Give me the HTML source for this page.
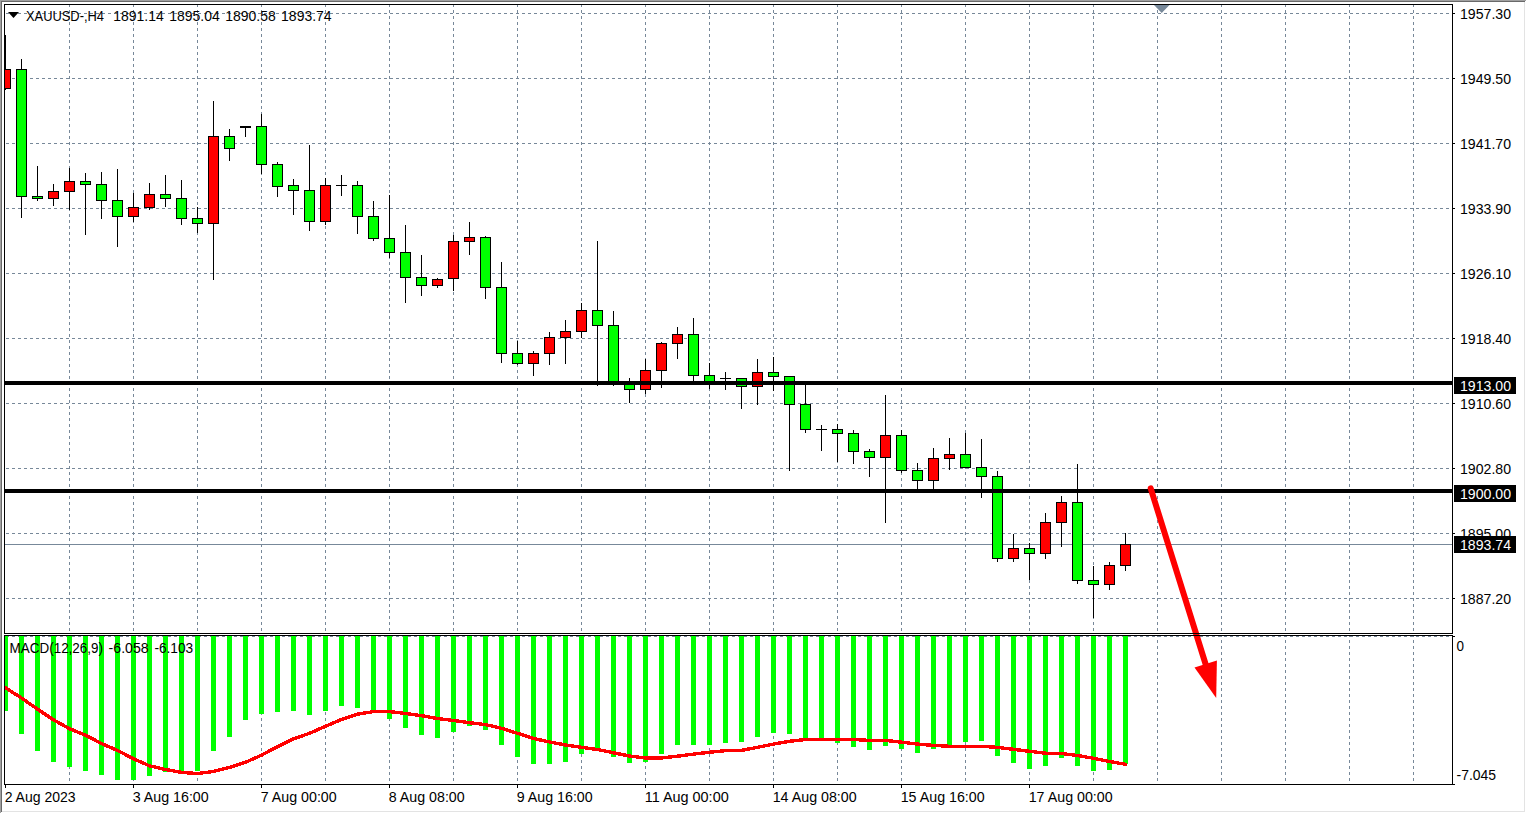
<!DOCTYPE html><html><head><meta charset="utf-8"><title>XAUUSD H4</title>
<style>html,body{margin:0;padding:0;background:#fff;overflow:hidden}svg{display:block}text{font-family:"Liberation Sans",sans-serif;font-size:14px;fill:#000}</style></head><body>
<svg width="1526" height="813" viewBox="0 0 1526 813">
<rect width="1526" height="813" fill="#fff"/>
<defs><clipPath id="cm"><rect x="5" y="5" width="1447" height="628"/></clipPath><clipPath id="ci"><rect x="5" y="636" width="1447" height="148"/></clipPath></defs>
<g shape-rendering="crispEdges">
<rect x="0" y="0" width="1526" height="1" fill="#a0a0a0"/><rect x="0" y="0" width="1" height="813" fill="#a0a0a0"/>
<rect x="1" y="1" width="1524" height="1" fill="#696969"/><rect x="1" y="1" width="1" height="811" fill="#696969"/>
<rect x="2" y="811" width="1523" height="1" fill="#e3e3e3"/><rect x="1524" y="2" width="1" height="810" fill="#e3e3e3"/>
<line x1="6" y1="13.5" x2="1452" y2="13.5" stroke="#778899" stroke-width="1" stroke-dasharray="3 3"/>
<line x1="6" y1="78.5" x2="1452" y2="78.5" stroke="#778899" stroke-width="1" stroke-dasharray="3 3"/>
<line x1="6" y1="143.5" x2="1452" y2="143.5" stroke="#778899" stroke-width="1" stroke-dasharray="3 3"/>
<line x1="6" y1="208.5" x2="1452" y2="208.5" stroke="#778899" stroke-width="1" stroke-dasharray="3 3"/>
<line x1="6" y1="273.5" x2="1452" y2="273.5" stroke="#778899" stroke-width="1" stroke-dasharray="3 3"/>
<line x1="6" y1="338.5" x2="1452" y2="338.5" stroke="#778899" stroke-width="1" stroke-dasharray="3 3"/>
<line x1="6" y1="403.5" x2="1452" y2="403.5" stroke="#778899" stroke-width="1" stroke-dasharray="3 3"/>
<line x1="6" y1="468.5" x2="1452" y2="468.5" stroke="#778899" stroke-width="1" stroke-dasharray="3 3"/>
<line x1="6" y1="533.5" x2="1452" y2="533.5" stroke="#778899" stroke-width="1" stroke-dasharray="3 3"/>
<line x1="6" y1="598.5" x2="1452" y2="598.5" stroke="#778899" stroke-width="1" stroke-dasharray="3 3"/>
<line x1="69.5" y1="4" x2="69.5" y2="784" stroke="#778899" stroke-width="1" stroke-dasharray="3 3"/>
<line x1="133.5" y1="4" x2="133.5" y2="784" stroke="#778899" stroke-width="1" stroke-dasharray="3 3"/>
<line x1="197.5" y1="4" x2="197.5" y2="784" stroke="#778899" stroke-width="1" stroke-dasharray="3 3"/>
<line x1="261.5" y1="4" x2="261.5" y2="784" stroke="#778899" stroke-width="1" stroke-dasharray="3 3"/>
<line x1="325.5" y1="4" x2="325.5" y2="784" stroke="#778899" stroke-width="1" stroke-dasharray="3 3"/>
<line x1="389.5" y1="4" x2="389.5" y2="784" stroke="#778899" stroke-width="1" stroke-dasharray="3 3"/>
<line x1="453.5" y1="4" x2="453.5" y2="784" stroke="#778899" stroke-width="1" stroke-dasharray="3 3"/>
<line x1="517.5" y1="4" x2="517.5" y2="784" stroke="#778899" stroke-width="1" stroke-dasharray="3 3"/>
<line x1="581.5" y1="4" x2="581.5" y2="784" stroke="#778899" stroke-width="1" stroke-dasharray="3 3"/>
<line x1="645.5" y1="4" x2="645.5" y2="784" stroke="#778899" stroke-width="1" stroke-dasharray="3 3"/>
<line x1="709.5" y1="4" x2="709.5" y2="784" stroke="#778899" stroke-width="1" stroke-dasharray="3 3"/>
<line x1="773.5" y1="4" x2="773.5" y2="784" stroke="#778899" stroke-width="1" stroke-dasharray="3 3"/>
<line x1="837.5" y1="4" x2="837.5" y2="784" stroke="#778899" stroke-width="1" stroke-dasharray="3 3"/>
<line x1="901.5" y1="4" x2="901.5" y2="784" stroke="#778899" stroke-width="1" stroke-dasharray="3 3"/>
<line x1="965.5" y1="4" x2="965.5" y2="784" stroke="#778899" stroke-width="1" stroke-dasharray="3 3"/>
<line x1="1029.5" y1="4" x2="1029.5" y2="784" stroke="#778899" stroke-width="1" stroke-dasharray="3 3"/>
<line x1="1093.5" y1="4" x2="1093.5" y2="784" stroke="#778899" stroke-width="1" stroke-dasharray="3 3"/>
<line x1="1157.5" y1="4" x2="1157.5" y2="784" stroke="#778899" stroke-width="1" stroke-dasharray="3 3"/>
<line x1="1221.5" y1="4" x2="1221.5" y2="784" stroke="#778899" stroke-width="1" stroke-dasharray="3 3"/>
<line x1="1285.5" y1="4" x2="1285.5" y2="784" stroke="#778899" stroke-width="1" stroke-dasharray="3 3"/>
<line x1="1349.5" y1="4" x2="1349.5" y2="784" stroke="#778899" stroke-width="1" stroke-dasharray="3 3"/>
<line x1="1413.5" y1="4" x2="1413.5" y2="784" stroke="#778899" stroke-width="1" stroke-dasharray="3 3"/>
<rect x="5" y="634" width="1447" height="1" fill="#fff"/>
<line x1="6" y1="636.5" x2="1452" y2="636.5" stroke="#778899" stroke-width="1" stroke-dasharray="3 3"/>
<rect x="5" y="544" width="1447" height="1" fill="#778899"/>
<g clip-path="url(#cm)">
<rect x="5" y="35" width="1" height="55" fill="#000"/>
<rect x="0" y="69" width="11" height="20" fill="#000"/>
<rect x="1" y="70" width="9" height="18" fill="#ff0000"/>
<rect x="21" y="59" width="1" height="159" fill="#000"/>
<rect x="16" y="69" width="11" height="128" fill="#000"/>
<rect x="17" y="70" width="9" height="126" fill="#00ff00"/>
<rect x="37" y="166" width="1" height="35" fill="#000"/>
<rect x="32" y="196" width="11" height="3" fill="#000"/>
<rect x="33" y="197" width="9" height="1" fill="#00ff00"/>
<rect x="53" y="184" width="1" height="22" fill="#000"/>
<rect x="48" y="191" width="11" height="8" fill="#000"/>
<rect x="49" y="192" width="9" height="6" fill="#ff0000"/>
<rect x="69" y="168" width="1" height="42" fill="#000"/>
<rect x="64" y="181" width="11" height="11" fill="#000"/>
<rect x="65" y="182" width="9" height="9" fill="#ff0000"/>
<rect x="85" y="173" width="1" height="62" fill="#000"/>
<rect x="80" y="181" width="11" height="4" fill="#000"/>
<rect x="81" y="182" width="9" height="2" fill="#00ff00"/>
<rect x="101" y="172" width="1" height="47" fill="#000"/>
<rect x="96" y="184" width="11" height="17" fill="#000"/>
<rect x="97" y="185" width="9" height="15" fill="#00ff00"/>
<rect x="117" y="169" width="1" height="78" fill="#000"/>
<rect x="112" y="200" width="11" height="17" fill="#000"/>
<rect x="113" y="201" width="9" height="15" fill="#00ff00"/>
<rect x="133" y="193" width="1" height="29" fill="#000"/>
<rect x="128" y="207" width="11" height="10" fill="#000"/>
<rect x="129" y="208" width="9" height="8" fill="#ff0000"/>
<rect x="149" y="183" width="1" height="27" fill="#000"/>
<rect x="144" y="194" width="11" height="14" fill="#000"/>
<rect x="145" y="195" width="9" height="12" fill="#ff0000"/>
<rect x="165" y="175" width="1" height="32" fill="#000"/>
<rect x="160" y="194" width="11" height="5" fill="#000"/>
<rect x="161" y="195" width="9" height="3" fill="#00ff00"/>
<rect x="181" y="180" width="1" height="45" fill="#000"/>
<rect x="176" y="198" width="11" height="21" fill="#000"/>
<rect x="177" y="199" width="9" height="19" fill="#00ff00"/>
<rect x="197" y="207" width="1" height="26" fill="#000"/>
<rect x="192" y="218" width="11" height="6" fill="#000"/>
<rect x="193" y="219" width="9" height="4" fill="#00ff00"/>
<rect x="213" y="101" width="1" height="179" fill="#000"/>
<rect x="208" y="136" width="11" height="88" fill="#000"/>
<rect x="209" y="137" width="9" height="86" fill="#ff0000"/>
<rect x="229" y="129" width="1" height="32" fill="#000"/>
<rect x="224" y="136" width="11" height="13" fill="#000"/>
<rect x="225" y="137" width="9" height="11" fill="#00ff00"/>
<rect x="245" y="126" width="1" height="11" fill="#000"/>
<rect x="240" y="126" width="11" height="2" fill="#000"/>
<rect x="261" y="114" width="1" height="60" fill="#000"/>
<rect x="256" y="126" width="11" height="39" fill="#000"/>
<rect x="257" y="127" width="9" height="37" fill="#00ff00"/>
<rect x="277" y="162" width="1" height="35" fill="#000"/>
<rect x="272" y="164" width="11" height="23" fill="#000"/>
<rect x="273" y="165" width="9" height="21" fill="#00ff00"/>
<rect x="293" y="179" width="1" height="36" fill="#000"/>
<rect x="288" y="185" width="11" height="6" fill="#000"/>
<rect x="289" y="186" width="9" height="4" fill="#00ff00"/>
<rect x="309" y="145" width="1" height="86" fill="#000"/>
<rect x="304" y="190" width="11" height="32" fill="#000"/>
<rect x="305" y="191" width="9" height="30" fill="#00ff00"/>
<rect x="325" y="178" width="1" height="47" fill="#000"/>
<rect x="320" y="185" width="11" height="37" fill="#000"/>
<rect x="321" y="186" width="9" height="35" fill="#ff0000"/>
<rect x="341" y="175" width="1" height="21" fill="#000"/>
<rect x="336" y="185" width="11" height="1" fill="#000"/>
<rect x="357" y="181" width="1" height="53" fill="#000"/>
<rect x="352" y="185" width="11" height="32" fill="#000"/>
<rect x="353" y="186" width="9" height="30" fill="#00ff00"/>
<rect x="373" y="201" width="1" height="40" fill="#000"/>
<rect x="368" y="216" width="11" height="23" fill="#000"/>
<rect x="369" y="217" width="9" height="21" fill="#00ff00"/>
<rect x="389" y="195" width="1" height="63" fill="#000"/>
<rect x="384" y="238" width="11" height="15" fill="#000"/>
<rect x="385" y="239" width="9" height="13" fill="#00ff00"/>
<rect x="405" y="225" width="1" height="78" fill="#000"/>
<rect x="400" y="252" width="11" height="26" fill="#000"/>
<rect x="401" y="253" width="9" height="24" fill="#00ff00"/>
<rect x="421" y="255" width="1" height="41" fill="#000"/>
<rect x="416" y="277" width="11" height="9" fill="#000"/>
<rect x="417" y="278" width="9" height="7" fill="#00ff00"/>
<rect x="437" y="278" width="1" height="10" fill="#000"/>
<rect x="432" y="279" width="11" height="7" fill="#000"/>
<rect x="433" y="280" width="9" height="5" fill="#ff0000"/>
<rect x="453" y="235" width="1" height="56" fill="#000"/>
<rect x="448" y="241" width="11" height="38" fill="#000"/>
<rect x="449" y="242" width="9" height="36" fill="#ff0000"/>
<rect x="469" y="222" width="1" height="33" fill="#000"/>
<rect x="464" y="237" width="11" height="5" fill="#000"/>
<rect x="465" y="238" width="9" height="3" fill="#ff0000"/>
<rect x="485" y="236" width="1" height="63" fill="#000"/>
<rect x="480" y="237" width="11" height="51" fill="#000"/>
<rect x="481" y="238" width="9" height="49" fill="#00ff00"/>
<rect x="501" y="262" width="1" height="101" fill="#000"/>
<rect x="496" y="287" width="11" height="67" fill="#000"/>
<rect x="497" y="288" width="9" height="65" fill="#00ff00"/>
<rect x="517" y="341" width="1" height="24" fill="#000"/>
<rect x="512" y="353" width="11" height="11" fill="#000"/>
<rect x="513" y="354" width="9" height="9" fill="#00ff00"/>
<rect x="533" y="351" width="1" height="25" fill="#000"/>
<rect x="528" y="353" width="11" height="11" fill="#000"/>
<rect x="529" y="354" width="9" height="9" fill="#ff0000"/>
<rect x="549" y="332" width="1" height="33" fill="#000"/>
<rect x="544" y="337" width="11" height="17" fill="#000"/>
<rect x="545" y="338" width="9" height="15" fill="#ff0000"/>
<rect x="565" y="320" width="1" height="44" fill="#000"/>
<rect x="560" y="331" width="11" height="7" fill="#000"/>
<rect x="561" y="332" width="9" height="5" fill="#ff0000"/>
<rect x="581" y="303" width="1" height="35" fill="#000"/>
<rect x="576" y="310" width="11" height="22" fill="#000"/>
<rect x="577" y="311" width="9" height="20" fill="#ff0000"/>
<rect x="597" y="241" width="1" height="145" fill="#000"/>
<rect x="592" y="310" width="11" height="16" fill="#000"/>
<rect x="593" y="311" width="9" height="14" fill="#00ff00"/>
<rect x="613" y="311" width="1" height="75" fill="#000"/>
<rect x="608" y="325" width="11" height="59" fill="#000"/>
<rect x="609" y="326" width="9" height="57" fill="#00ff00"/>
<rect x="629" y="378" width="1" height="25" fill="#000"/>
<rect x="624" y="383" width="11" height="7" fill="#000"/>
<rect x="625" y="384" width="9" height="5" fill="#00ff00"/>
<rect x="645" y="359" width="1" height="35" fill="#000"/>
<rect x="640" y="370" width="11" height="20" fill="#000"/>
<rect x="641" y="371" width="9" height="18" fill="#ff0000"/>
<rect x="661" y="342" width="1" height="46" fill="#000"/>
<rect x="656" y="343" width="11" height="28" fill="#000"/>
<rect x="657" y="344" width="9" height="26" fill="#ff0000"/>
<rect x="677" y="327" width="1" height="32" fill="#000"/>
<rect x="672" y="334" width="11" height="10" fill="#000"/>
<rect x="673" y="335" width="9" height="8" fill="#ff0000"/>
<rect x="693" y="318" width="1" height="64" fill="#000"/>
<rect x="688" y="334" width="11" height="42" fill="#000"/>
<rect x="689" y="335" width="9" height="40" fill="#00ff00"/>
<rect x="709" y="363" width="1" height="26" fill="#000"/>
<rect x="704" y="375" width="11" height="8" fill="#000"/>
<rect x="705" y="376" width="9" height="6" fill="#00ff00"/>
<rect x="725" y="372" width="1" height="18" fill="#000"/>
<rect x="720" y="378" width="11" height="1" fill="#000"/>
<rect x="741" y="378" width="1" height="31" fill="#000"/>
<rect x="736" y="378" width="11" height="9" fill="#000"/>
<rect x="737" y="379" width="9" height="7" fill="#00ff00"/>
<rect x="757" y="359" width="1" height="46" fill="#000"/>
<rect x="752" y="372" width="11" height="15" fill="#000"/>
<rect x="753" y="373" width="9" height="13" fill="#ff0000"/>
<rect x="773" y="357" width="1" height="34" fill="#000"/>
<rect x="768" y="372" width="11" height="5" fill="#000"/>
<rect x="769" y="373" width="9" height="3" fill="#00ff00"/>
<rect x="789" y="376" width="1" height="95" fill="#000"/>
<rect x="784" y="376" width="11" height="29" fill="#000"/>
<rect x="785" y="377" width="9" height="27" fill="#00ff00"/>
<rect x="805" y="382" width="1" height="51" fill="#000"/>
<rect x="800" y="404" width="11" height="26" fill="#000"/>
<rect x="801" y="405" width="9" height="24" fill="#00ff00"/>
<rect x="821" y="425" width="1" height="26" fill="#000"/>
<rect x="816" y="429" width="11" height="1" fill="#000"/>
<rect x="837" y="424" width="1" height="38" fill="#000"/>
<rect x="832" y="429" width="11" height="5" fill="#000"/>
<rect x="833" y="430" width="9" height="3" fill="#00ff00"/>
<rect x="853" y="430" width="1" height="34" fill="#000"/>
<rect x="848" y="433" width="11" height="19" fill="#000"/>
<rect x="849" y="434" width="9" height="17" fill="#00ff00"/>
<rect x="869" y="449" width="1" height="28" fill="#000"/>
<rect x="864" y="451" width="11" height="7" fill="#000"/>
<rect x="865" y="452" width="9" height="5" fill="#00ff00"/>
<rect x="885" y="395" width="1" height="128" fill="#000"/>
<rect x="880" y="435" width="11" height="23" fill="#000"/>
<rect x="881" y="436" width="9" height="21" fill="#ff0000"/>
<rect x="901" y="430" width="1" height="43" fill="#000"/>
<rect x="896" y="435" width="11" height="36" fill="#000"/>
<rect x="897" y="436" width="9" height="34" fill="#00ff00"/>
<rect x="917" y="463" width="1" height="27" fill="#000"/>
<rect x="912" y="470" width="11" height="11" fill="#000"/>
<rect x="913" y="471" width="9" height="9" fill="#00ff00"/>
<rect x="933" y="448" width="1" height="42" fill="#000"/>
<rect x="928" y="458" width="11" height="23" fill="#000"/>
<rect x="929" y="459" width="9" height="21" fill="#ff0000"/>
<rect x="949" y="438" width="1" height="32" fill="#000"/>
<rect x="944" y="454" width="11" height="5" fill="#000"/>
<rect x="945" y="455" width="9" height="3" fill="#ff0000"/>
<rect x="965" y="433" width="1" height="35" fill="#000"/>
<rect x="960" y="454" width="11" height="14" fill="#000"/>
<rect x="961" y="455" width="9" height="12" fill="#00ff00"/>
<rect x="981" y="439" width="1" height="59" fill="#000"/>
<rect x="976" y="467" width="11" height="10" fill="#000"/>
<rect x="977" y="468" width="9" height="8" fill="#00ff00"/>
<rect x="997" y="471" width="1" height="91" fill="#000"/>
<rect x="992" y="476" width="11" height="83" fill="#000"/>
<rect x="993" y="477" width="9" height="81" fill="#00ff00"/>
<rect x="1013" y="534" width="1" height="28" fill="#000"/>
<rect x="1008" y="548" width="11" height="11" fill="#000"/>
<rect x="1009" y="549" width="9" height="9" fill="#ff0000"/>
<rect x="1029" y="543" width="1" height="37" fill="#000"/>
<rect x="1024" y="548" width="11" height="6" fill="#000"/>
<rect x="1025" y="549" width="9" height="4" fill="#00ff00"/>
<rect x="1045" y="513" width="1" height="46" fill="#000"/>
<rect x="1040" y="522" width="11" height="32" fill="#000"/>
<rect x="1041" y="523" width="9" height="30" fill="#ff0000"/>
<rect x="1061" y="496" width="1" height="51" fill="#000"/>
<rect x="1056" y="502" width="11" height="21" fill="#000"/>
<rect x="1057" y="503" width="9" height="19" fill="#ff0000"/>
<rect x="1077" y="464" width="1" height="120" fill="#000"/>
<rect x="1072" y="502" width="11" height="79" fill="#000"/>
<rect x="1073" y="503" width="9" height="77" fill="#00ff00"/>
<rect x="1093" y="566" width="1" height="52" fill="#000"/>
<rect x="1088" y="580" width="11" height="5" fill="#000"/>
<rect x="1089" y="581" width="9" height="3" fill="#00ff00"/>
<rect x="1109" y="562" width="1" height="28" fill="#000"/>
<rect x="1104" y="565" width="11" height="20" fill="#000"/>
<rect x="1105" y="566" width="9" height="18" fill="#ff0000"/>
<rect x="1125" y="533" width="1" height="38" fill="#000"/>
<rect x="1120" y="544" width="11" height="22" fill="#000"/>
<rect x="1121" y="545" width="9" height="20" fill="#ff0000"/>
</g>
<rect x="5" y="381" width="1447" height="4" fill="#000"/>
<rect x="5" y="489" width="1447" height="4" fill="#000"/>
<g clip-path="url(#ci)">
<rect x="3" y="636" width="5" height="75" fill="#00ff00"/>
<rect x="19" y="636" width="5" height="98" fill="#00ff00"/>
<rect x="35" y="636" width="5" height="115" fill="#00ff00"/>
<rect x="51" y="636" width="5" height="126" fill="#00ff00"/>
<rect x="67" y="636" width="5" height="131" fill="#00ff00"/>
<rect x="83" y="636" width="5" height="135" fill="#00ff00"/>
<rect x="99" y="636" width="5" height="139" fill="#00ff00"/>
<rect x="115" y="636" width="5" height="144" fill="#00ff00"/>
<rect x="131" y="636" width="5" height="144" fill="#00ff00"/>
<rect x="147" y="636" width="5" height="140" fill="#00ff00"/>
<rect x="163" y="636" width="5" height="136" fill="#00ff00"/>
<rect x="179" y="636" width="5" height="135" fill="#00ff00"/>
<rect x="195" y="636" width="5" height="135" fill="#00ff00"/>
<rect x="211" y="636" width="5" height="115" fill="#00ff00"/>
<rect x="227" y="636" width="5" height="101" fill="#00ff00"/>
<rect x="243" y="636" width="5" height="84" fill="#00ff00"/>
<rect x="259" y="636" width="5" height="78" fill="#00ff00"/>
<rect x="275" y="636" width="5" height="76" fill="#00ff00"/>
<rect x="291" y="636" width="5" height="75" fill="#00ff00"/>
<rect x="307" y="636" width="5" height="79" fill="#00ff00"/>
<rect x="323" y="636" width="5" height="75" fill="#00ff00"/>
<rect x="339" y="636" width="5" height="70" fill="#00ff00"/>
<rect x="355" y="636" width="5" height="72" fill="#00ff00"/>
<rect x="371" y="636" width="5" height="75" fill="#00ff00"/>
<rect x="387" y="636" width="5" height="83" fill="#00ff00"/>
<rect x="403" y="636" width="5" height="92" fill="#00ff00"/>
<rect x="419" y="636" width="5" height="99" fill="#00ff00"/>
<rect x="435" y="636" width="5" height="102" fill="#00ff00"/>
<rect x="451" y="636" width="5" height="96" fill="#00ff00"/>
<rect x="467" y="636" width="5" height="90" fill="#00ff00"/>
<rect x="483" y="636" width="5" height="94" fill="#00ff00"/>
<rect x="499" y="636" width="5" height="109" fill="#00ff00"/>
<rect x="515" y="636" width="5" height="121" fill="#00ff00"/>
<rect x="531" y="636" width="5" height="128" fill="#00ff00"/>
<rect x="547" y="636" width="5" height="128" fill="#00ff00"/>
<rect x="563" y="636" width="5" height="126" fill="#00ff00"/>
<rect x="579" y="636" width="5" height="118" fill="#00ff00"/>
<rect x="595" y="636" width="5" height="114" fill="#00ff00"/>
<rect x="611" y="636" width="5" height="121" fill="#00ff00"/>
<rect x="627" y="636" width="5" height="127" fill="#00ff00"/>
<rect x="643" y="636" width="5" height="126" fill="#00ff00"/>
<rect x="659" y="636" width="5" height="118" fill="#00ff00"/>
<rect x="675" y="636" width="5" height="109" fill="#00ff00"/>
<rect x="691" y="636" width="5" height="109" fill="#00ff00"/>
<rect x="707" y="636" width="5" height="109" fill="#00ff00"/>
<rect x="723" y="636" width="5" height="107" fill="#00ff00"/>
<rect x="739" y="636" width="5" height="106" fill="#00ff00"/>
<rect x="755" y="636" width="5" height="101" fill="#00ff00"/>
<rect x="771" y="636" width="5" height="97" fill="#00ff00"/>
<rect x="787" y="636" width="5" height="98" fill="#00ff00"/>
<rect x="803" y="636" width="5" height="102" fill="#00ff00"/>
<rect x="819" y="636" width="5" height="102" fill="#00ff00"/>
<rect x="835" y="636" width="5" height="107" fill="#00ff00"/>
<rect x="851" y="636" width="5" height="111" fill="#00ff00"/>
<rect x="867" y="636" width="5" height="114" fill="#00ff00"/>
<rect x="883" y="636" width="5" height="110" fill="#00ff00"/>
<rect x="899" y="636" width="5" height="113" fill="#00ff00"/>
<rect x="915" y="636" width="5" height="117" fill="#00ff00"/>
<rect x="931" y="636" width="5" height="113" fill="#00ff00"/>
<rect x="947" y="636" width="5" height="109" fill="#00ff00"/>
<rect x="963" y="636" width="5" height="106" fill="#00ff00"/>
<rect x="979" y="636" width="5" height="105" fill="#00ff00"/>
<rect x="995" y="636" width="5" height="120" fill="#00ff00"/>
<rect x="1011" y="636" width="5" height="127" fill="#00ff00"/>
<rect x="1027" y="636" width="5" height="133" fill="#00ff00"/>
<rect x="1043" y="636" width="5" height="130" fill="#00ff00"/>
<rect x="1059" y="636" width="5" height="122" fill="#00ff00"/>
<rect x="1075" y="636" width="5" height="130" fill="#00ff00"/>
<rect x="1091" y="636" width="5" height="135" fill="#00ff00"/>
<rect x="1107" y="636" width="5" height="134" fill="#00ff00"/>
<rect x="1123" y="636" width="5" height="128" fill="#00ff00"/>
</g>
</g>
<g clip-path="url(#ci)"><polyline shape-rendering="crispEdges" points="5.5,687.8 21.5,698 37.5,709.2 53.5,719.8 69.5,728.7 85.5,735.2 101.5,743.5 117.5,750.4 133.5,758.8 149.5,765.8 165.5,769.5 181.5,772.4 197.5,773.5 213.5,771.5 229.5,767.5 245.5,762.3 261.5,755.2 277.5,746.6 293.5,738.9 309.5,733.3 325.5,726.3 341.5,719.4 357.5,714.2 373.5,711.6 389.5,711.6 405.5,713.5 421.5,715.7 437.5,718.5 453.5,720.5 469.5,722.7 485.5,724.6 501.5,728.3 517.5,733.3 533.5,738.5 549.5,741.9 565.5,745 581.5,747.3 597.5,749.5 613.5,752.8 629.5,756 645.5,758 661.5,758 677.5,756.2 693.5,754.1 709.5,752.3 725.5,750.6 741.5,750.4 757.5,747.3 773.5,744.1 789.5,741.3 805.5,739.5 821.5,739.5 837.5,739.5 853.5,739.5 869.5,740.4 885.5,740.4 901.5,742.2 917.5,744.1 933.5,745.4 949.5,746.3 965.5,746.3 981.5,746.3 997.5,747.4 1013.5,749.3 1029.5,751.3 1045.5,753.2 1061.5,753.5 1077.5,755.5 1093.5,758.3 1109.5,761.5 1125.5,764.3" fill="none" stroke="#ff0000" stroke-width="3.4" stroke-linejoin="round" stroke-linecap="round"/></g>
<line x1="1150.7" y1="488.4" x2="1206.5" y2="667" stroke="#ff0000" stroke-width="6" stroke-linecap="round"/>
<polygon points="1194.5,667.6 1216.9,660.6 1216.2,698" fill="#ff0000"/>
<g shape-rendering="crispEdges">
<rect x="4" y="4" width="1449" height="1" fill="#000"/>
<rect x="4" y="4" width="1" height="630" fill="#000"/><rect x="4" y="635" width="1" height="150" fill="#000"/>
<rect x="1452" y="4" width="1" height="630" fill="#000"/>
<rect x="1452" y="635" width="1" height="150" fill="#000"/>
<rect x="4" y="633" width="1449" height="1" fill="#000"/>
<rect x="4" y="635" width="1449" height="1" fill="#000"/>
<rect x="4" y="784" width="1449" height="1" fill="#000"/>
<rect x="1453" y="13" width="2" height="1" fill="#000"/>
<rect x="1453" y="78" width="2" height="1" fill="#000"/>
<rect x="1453" y="143" width="2" height="1" fill="#000"/>
<rect x="1453" y="208" width="2" height="1" fill="#000"/>
<rect x="1453" y="273" width="2" height="1" fill="#000"/>
<rect x="1453" y="338" width="2" height="1" fill="#000"/>
<rect x="1453" y="403" width="2" height="1" fill="#000"/>
<rect x="1453" y="468" width="2" height="1" fill="#000"/>
<rect x="1453" y="533" width="2" height="1" fill="#000"/>
<rect x="1453" y="598" width="2" height="1" fill="#000"/>
<rect x="1453" y="636" width="2" height="1" fill="#000"/><rect x="1453" y="784" width="2" height="1" fill="#000"/>
<rect x="5" y="785" width="1" height="3" fill="#000"/>
<rect x="133" y="785" width="1" height="3" fill="#000"/>
<rect x="261" y="785" width="1" height="3" fill="#000"/>
<rect x="389" y="785" width="1" height="3" fill="#000"/>
<rect x="517" y="785" width="1" height="3" fill="#000"/>
<rect x="645" y="785" width="1" height="3" fill="#000"/>
<rect x="773" y="785" width="1" height="3" fill="#000"/>
<rect x="901" y="785" width="1" height="3" fill="#000"/>
<rect x="1029" y="785" width="1" height="3" fill="#000"/>
<rect x="1454" y="377" width="62" height="17" fill="#000"/>
<rect x="1454" y="485" width="62" height="17" fill="#000"/>
</g>
<polygon points="1154,5 1169.5,5 1161.7,13" fill="#778899"/>
<polygon points="8,12 19,12 13.5,18" fill="#000"/>
<text x="1460" y="19" textLength="51" lengthAdjust="spacingAndGlyphs">1957.30</text>
<text x="1460" y="84" textLength="51" lengthAdjust="spacingAndGlyphs">1949.50</text>
<text x="1460" y="149" textLength="51" lengthAdjust="spacingAndGlyphs">1941.70</text>
<text x="1460" y="214" textLength="51" lengthAdjust="spacingAndGlyphs">1933.90</text>
<text x="1460" y="279" textLength="51" lengthAdjust="spacingAndGlyphs">1926.10</text>
<text x="1460" y="344" textLength="51" lengthAdjust="spacingAndGlyphs">1918.40</text>
<text x="1460" y="409" textLength="51" lengthAdjust="spacingAndGlyphs">1910.60</text>
<text x="1460" y="474" textLength="51" lengthAdjust="spacingAndGlyphs">1902.80</text>
<text x="1460" y="539" textLength="51" lengthAdjust="spacingAndGlyphs">1895.00</text>
<text x="1460" y="604" textLength="51" lengthAdjust="spacingAndGlyphs">1887.20</text>
<g shape-rendering="crispEdges"><rect x="1454" y="536" width="62" height="17" fill="#000"/></g>
<text x="1460" y="391" textLength="51" lengthAdjust="spacingAndGlyphs" style="fill:#fff">1913.00</text>
<text x="1460" y="499" textLength="51" lengthAdjust="spacingAndGlyphs" style="fill:#fff">1900.00</text>
<text x="1460" y="550" textLength="51" lengthAdjust="spacingAndGlyphs" style="fill:#fff">1893.74</text>
<text x="1456.5" y="651" textLength="7.5" lengthAdjust="spacingAndGlyphs">0</text>
<text x="1456.5" y="780" textLength="39.5" lengthAdjust="spacingAndGlyphs">-7.045</text>
<text x="26" y="20.6" textLength="78" lengthAdjust="spacingAndGlyphs">XAUUSD-,H4</text>
<text x="113.2" y="20.6" textLength="50.5" lengthAdjust="spacingAndGlyphs">1891.14</text>
<text x="169.2" y="20.6" textLength="50.5" lengthAdjust="spacingAndGlyphs">1895.04</text>
<text x="225.2" y="20.6" textLength="50.5" lengthAdjust="spacingAndGlyphs">1890.58</text>
<text x="281.1" y="20.6" textLength="50.5" lengthAdjust="spacingAndGlyphs">1893.74</text>
<text x="9.6" y="653" textLength="93.4" lengthAdjust="spacingAndGlyphs">MACD(12,26,9)</text>
<text x="108.6" y="653" textLength="40" lengthAdjust="spacingAndGlyphs">-6.058</text>
<text x="154.4" y="653" textLength="38.8" lengthAdjust="spacingAndGlyphs">-6.103</text>
<text x="4.7" y="802" textLength="71" lengthAdjust="spacingAndGlyphs">2 Aug 2023</text>
<text x="132.7" y="802" textLength="76" lengthAdjust="spacingAndGlyphs">3 Aug 16:00</text>
<text x="260.7" y="802" textLength="76" lengthAdjust="spacingAndGlyphs">7 Aug 00:00</text>
<text x="388.7" y="802" textLength="76" lengthAdjust="spacingAndGlyphs">8 Aug 08:00</text>
<text x="516.7" y="802" textLength="76" lengthAdjust="spacingAndGlyphs">9 Aug 16:00</text>
<text x="644.7" y="802" textLength="84" lengthAdjust="spacingAndGlyphs">11 Aug 00:00</text>
<text x="772.7" y="802" textLength="84" lengthAdjust="spacingAndGlyphs">14 Aug 08:00</text>
<text x="900.7" y="802" textLength="84" lengthAdjust="spacingAndGlyphs">15 Aug 16:00</text>
<text x="1028.7" y="802" textLength="84" lengthAdjust="spacingAndGlyphs">17 Aug 00:00</text>
</svg></body></html>
